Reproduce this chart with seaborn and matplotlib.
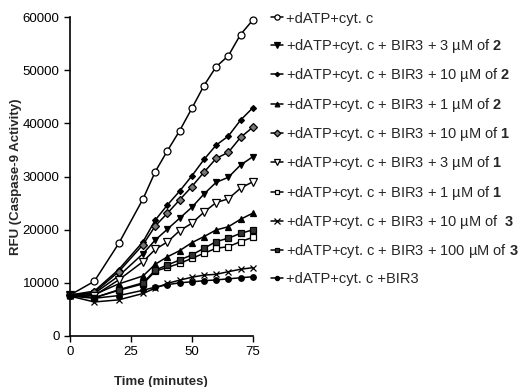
import numpy as np
import pandas as pd
import matplotlib
matplotlib.use("Agg")
import matplotlib.pyplot as plt
import seaborn as sns

sns.set_style("ticks")
plt.rcParams['font.family'] = ['Liberation Sans', 'DejaVu Sans']
plt.rcParams['mathtext.fontset'] = 'custom'
plt.rcParams['mathtext.bf'] = 'Liberation Sans:bold'
plt.rcParams['mathtext.rm'] = 'Liberation Sans'

time = [0, 10, 20, 30, 35, 40, 45, 50, 55, 60, 65, 70, 75]

labels = [
    "+dATP+cyt. c",
    "+dATP+cyt. c + BIR3 + 3 µM of $\\mathbf{2}$",
    "+dATP+cyt. c + BIR3 + 10 µM of $\\mathbf{2}$",
    "+dATP+cyt. c + BIR3 + 1 µM of $\\mathbf{2}$",
    "+dATP+cyt. c + BIR3 + 10 µM of $\\mathbf{1}$",
    "+dATP+cyt. c + BIR3 + 3 µM of $\\mathbf{1}$",
    "+dATP+cyt. c + BIR3 + 1 µM of $\\mathbf{1}$",
    "+dATP+cyt. c + BIR3 + 10 µM of  $\\mathbf{3}$",
    "+dATP+cyt. c + BIR3 + 100 µM of $\\mathbf{3}$",
    "+dATP+cyt. c +BIR3",
]

no_inhibitor = [7700, 10300, 17400, 25800, 30900, 34850, 38600, 42800, 47100, 50650, 52700, 56700, 59400]
c2_3uM = [7700, 8000, 11300, 15500, 18050, 20100, 22150, 24200, 26700, 28900, 29850, 32150, 33700]
c2_10uM = [7700, 8450, 12500, 17750, 21800, 24650, 27250, 30100, 33200, 35900, 37600, 40600, 42900]
c2_1uM = [7700, 7800, 9800, 11300, 13500, 14900, 16050, 17550, 18700, 19950, 20550, 21950, 23100]
c1_10uM = [7700, 8200, 12100, 17200, 20700, 23100, 25600, 28100, 30800, 33400, 34550, 37350, 39250]
c1_3uM = [7700, 7600, 10550, 14000, 16300, 17700, 19800, 21200, 23300, 25100, 25800, 27800, 29000]
c1_1uM = [7700, 7200, 8600, 9800, 12200, 12900, 13650, 14600, 15550, 16500, 16800, 17750, 18550]
c3_10uM = [7500, 6400, 6800, 8000, 9000, 9900, 10500, 11050, 11450, 11600, 12100, 12550, 12850]
c3_100uM = [7700, 7200, 8700, 10000, 12400, 13350, 14300, 15250, 16500, 17750, 18400, 19300, 19950]
bir3_only = [7500, 7100, 7600, 8600, 9200, 9650, 10000, 10200, 10400, 10550, 10750, 10950, 11150]

series = [no_inhibitor, c2_3uM, c2_10uM, c2_1uM, c1_10uM, c1_3uM, c1_1uM, c3_10uM, c3_100uM, bir3_only]

styles = [
    dict(marker='o', markersize=5, markerfacecolor='white'),
    dict(marker='v', markersize=5, markerfacecolor='black'),
    dict(marker='D', markersize=3, markerfacecolor='black'),
    dict(marker='^', markersize=4.5, markerfacecolor='black'),
    dict(marker='D', markersize=4.5, markerfacecolor='#777777'),
    dict(marker='v', markersize=5.5, markerfacecolor='white'),
    dict(marker='s', markersize=4.5, markerfacecolor='white'),
    dict(marker='x', markersize=5, markerfacecolor='black'),
    dict(marker='s', markersize=4, markerfacecolor='#333333'),
    dict(marker='o', markersize=4, markerfacecolor='black'),
]

fig = plt.figure(figsize=(5.24, 3.87), dpi=100)
ax = fig.add_axes([70 / 524, 1 - 336 / 387, (252.7 - 70) / 524, (336 - 17) / 387])

for vals, lab, st in zip(series, labels, styles):
    df = pd.DataFrame({'time': time, 'rfu': vals})
    sns.lineplot(data=df, x='time', y='rfu', ax=ax, color='black', linewidth=1.1,
                 markeredgecolor='black', markeredgewidth=0.9, label=lab,
                 clip_on=False, **st)

ax.set_xlim(0, 75)
ax.set_ylim(0, 60000)
ax.set_xticks([0, 25, 50, 75])
ax.set_yticks(range(0, 60001, 10000))
ax.tick_params(labelsize=9.5, length=4, width=1, direction='out', colors='black')
for s in ['left', 'bottom']:
    ax.spines[s].set_linewidth(1.2)
    ax.spines[s].set_color('black')
sns.despine(ax=ax)

ax.set_xlabel('Time (minutes)', fontsize=9.5, fontweight='bold', labelpad=13)
ax.set_ylabel('RFU (Caspase-9 Activity)', fontsize=9.5, fontweight='bold', labelpad=0.5)

handles, labs = ax.get_legend_handles_labels()
ax.get_legend().remove()
fig.legend(handles, labs, loc='upper left', bbox_to_anchor=(271 / 524, 1 - 11.5 / 387),
           frameon=False, fontsize=10.5, handlelength=0.85, handletextpad=0.2,
           labelspacing=0.78, borderaxespad=0, borderpad=0, markerscale=0.75)

fig.savefig('out.png', dpi=100)
